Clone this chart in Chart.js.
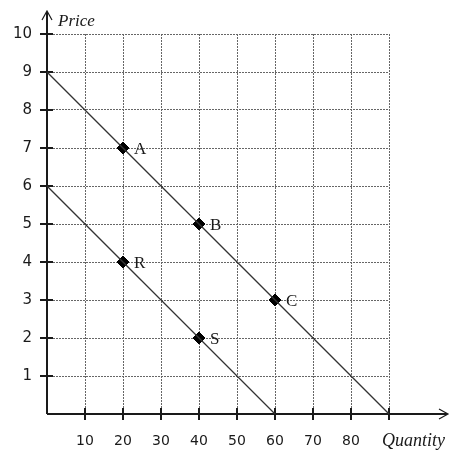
<!DOCTYPE html>
<html>
<head>
<meta charset="utf-8">
<script src="https://cdn.jsdelivr.net/npm/chart.js@4"></script>
<style>
  html, body { margin: 0; padding: 0; background: #fff; }
  #wrap { width: 451px; height: 452px; }
</style>
</head>
<body>
<div id="wrap"><canvas id="chart" width="451" height="452"></canvas></div>
<script>
// axis ranges
const xTicks = [0, 10, 20, 30, 40, 50, 60, 70, 80, 90];
const yTicks = [0, 1, 2, 3, 4, 5, 6, 7, 8, 9, 10];

// the two straight lines (end points)
const upperLineX = [0, 90];
const upperLineY = [9, 0];
const lowerLineX = [0, 60];
const lowerLineY = [6, 0];

// labelled points
const pointNames = ['A', 'B', 'C', 'R', 'S'];
const pointQty = [20, 40, 60, 20, 40];
const pointPrice = [7, 5, 3, 4, 2];

const toXY = (xs, ys) => xs.map((x, i) => ({ x: x, y: ys[i] }));

const INK = '#1a1a1a';
const GRID = '#666';

// solid axes with arrow heads, cross ticks and axis titles
const axesPlugin = {
    id: 'axes',
    beforeDatasetsDraw(chart) {
        const { ctx, scales: { x, y } } = chart;
        const x0 = x.getPixelForValue(0);
        const y0 = y.getPixelForValue(0);
        ctx.save();
        ctx.strokeStyle = INK;
        ctx.lineWidth = 2;
        ctx.beginPath();
        ctx.moveTo(x0, y0);
        ctx.lineTo(x0, 12);
        ctx.moveTo(x0, y0);
        ctx.lineTo(447, y0);
        ctx.stroke();

        // arrow heads
        ctx.lineWidth = 1.2;
        ctx.beginPath();
        ctx.moveTo(x0 - 5, 20);
        ctx.lineTo(x0, 11);
        ctx.lineTo(x0 + 5, 20);
        ctx.moveTo(439, y0 - 5);
        ctx.lineTo(448, y0);
        ctx.lineTo(439, y0 + 5);
        ctx.stroke();

        // cross ticks
        ctx.lineWidth = 2;
        ctx.beginPath();
        xTicks.slice(1).forEach(v => {
            const px = Math.round(x.getPixelForValue(v));
            ctx.moveTo(px, y0 - 6);
            ctx.lineTo(px, y0 + 6);
        });
        yTicks.slice(1).forEach(v => {
            const py = Math.round(y.getPixelForValue(v));
            ctx.moveTo(x0 - 7, py);
            ctx.lineTo(x0 + 6, py);
        });
        ctx.stroke();

        ctx.fillStyle = INK;
        ctx.textBaseline = 'alphabetic';
        ctx.textAlign = 'left';
        ctx.font = 'italic 17px "Liberation Serif", serif';
        ctx.fillText('Price', 58, 26);
        ctx.font = 'italic 18px "Liberation Serif", serif';
        ctx.fillText('Quantity', 382, 446);
        ctx.restore();
    },
    afterDatasetsDraw(chart) {
        const { ctx } = chart;
        const meta = chart.getDatasetMeta(2);
        ctx.save();
        ctx.fillStyle = INK;
        ctx.font = '17px "Liberation Serif", serif';
        ctx.textAlign = 'left';
        ctx.textBaseline = 'middle';
        meta.data.forEach((pt, i) => {
            ctx.fillText(pointNames[i], pt.x + 11, pt.y + 2);
        });
        ctx.restore();
    }
};

new Chart(document.getElementById('chart'), {
    type: 'scatter',
    data: {
        datasets: [
            {
                data: toXY(upperLineX, upperLineY),
                showLine: true,
                borderColor: '#333',
                borderWidth: 1.3,
                pointRadius: 0
            },
            {
                data: toXY(lowerLineX, lowerLineY),
                showLine: true,
                borderColor: '#333',
                borderWidth: 1.3,
                pointRadius: 0
            },
            {
                data: toXY(pointQty, pointPrice),
                showLine: false,
                pointStyle: 'rectRot',
                pointRadius: 6,
                pointBackgroundColor: '#000',
                pointBorderColor: '#000',
                pointBorderWidth: 1
            }
        ]
    },
    options: {
        responsive: false,
        animation: false,
        layout: { padding: { top: 34, right: 62, left: 0, bottom: 0 } },
        plugins: {
            legend: { display: false },
            tooltip: { enabled: false }
        },
        scales: {
            x: {
                type: 'linear',
                min: xTicks[0],
                max: xTicks[xTicks.length - 1],
                afterFit: s => { s.height = 38; },
                afterBuildTicks: s => { s.ticks = xTicks.map(v => ({ value: v })); },
                grid: { color: GRID, lineWidth: 1, drawTicks: false },
                border: { display: false, dash: [2, 1] },
                ticks: {
                    padding: 19,
                    color: INK,
                    font: { family: '"DejaVu Sans", sans-serif', size: 14 },
                    callback: v => (v === 0 || v === 90) ? '' : String(v)
                }
            },
            y: {
                type: 'linear',
                min: yTicks[0],
                max: yTicks[yTicks.length - 1],
                afterFit: s => { s.width = 47; },
                afterBuildTicks: s => { s.ticks = yTicks.map(v => ({ value: v })); },
                grid: { color: GRID, lineWidth: 1, drawTicks: false },
                border: { display: false, dash: [2, 1] },
                ticks: {
                    padding: 15,
                    color: INK,
                    font: { family: '"DejaVu Sans", sans-serif', size: 15 },
                    callback: v => v === 0 ? '' : String(v)
                }
            }
        }
    },
    plugins: [axesPlugin]
});
</script>
</body>
</html>
